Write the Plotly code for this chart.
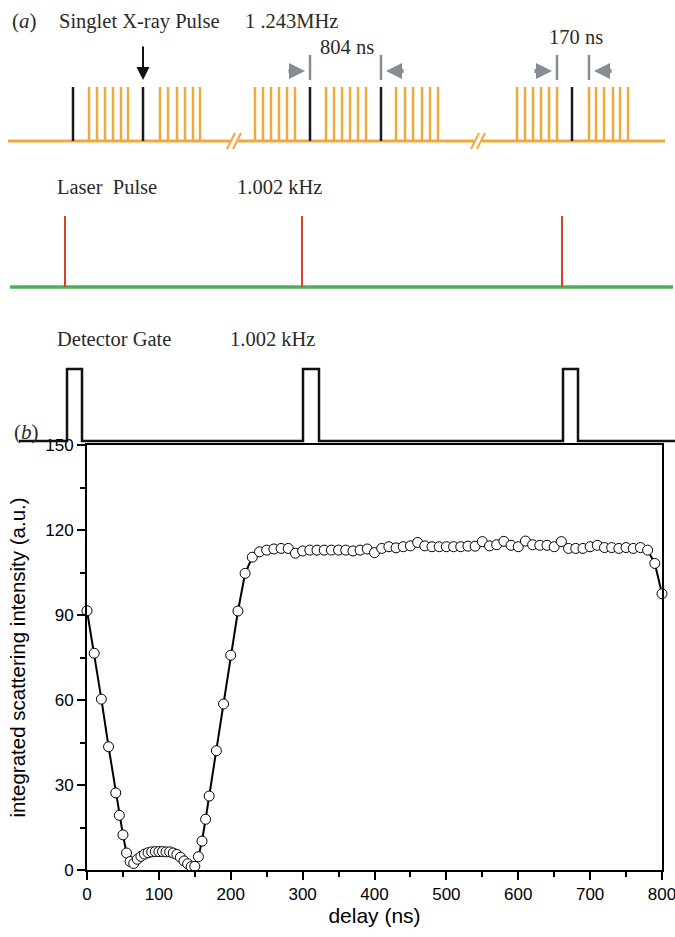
import plotly.graph_objects as go

# ---------------- data: panel (b) ----------------
delay_ns = [0, 10, 20, 30, 40, 45, 50, 55, 60, 65, 70, 75, 80, 85, 90, 95, 100, 105, 110, 115,
            120, 125, 130, 135, 140, 145, 150, 155, 160, 165, 170, 180, 190, 200, 210, 220,
            230, 240, 250, 260, 270, 280, 290, 300, 310, 320, 330, 340, 350, 360, 370, 380,
            390, 400, 410, 420, 430, 440, 450, 460, 470, 480, 490, 500, 510, 520, 530, 540,
            550, 560, 570, 580, 590, 600, 610, 620, 630, 640, 650, 660, 670, 680, 690, 700,
            710, 720, 730, 740, 750, 760, 770, 780, 790, 800]
intensity = [91.5, 76.5, 60.3, 43.5, 27.2, 19.3, 12.4, 6.0, 3.0, 2.3, 3.8, 4.8, 5.6, 6.1, 6.4,
             6.5, 6.5, 6.5, 6.4, 6.4, 6.0, 5.5, 4.5, 3.2, 2.2, 1.2, 1.3, 4.7, 10.2, 17.9, 26.1,
             42.1, 58.6, 75.8, 91.4, 104.7, 110.4, 112.3, 112.9, 113.3, 113.5, 113.5, 111.8,
             112.6, 112.9, 112.9, 112.9, 112.9, 112.9, 112.9, 112.6, 112.9, 113.3, 112.0, 113.5,
             114.1, 113.7, 114.1, 114.4, 115.6, 114.4, 114.1, 114.1, 114.1, 114.1, 114.1, 114.3,
             114.3, 115.9, 114.4, 114.8, 116.0, 114.6, 114.1, 116.1, 114.8, 114.6, 114.6, 114.1,
             115.9, 113.5, 113.5, 113.5, 114.1, 114.6, 113.8, 113.8, 113.5, 113.8, 113.5, 113.8,
             112.9, 108.2, 97.5]
x_ticks = [0, 100, 200, 300, 400, 500, 600, 700, 800]
y_ticks = [0, 30, 60, 90, 120, 150]

# ---------------- data: panel (a) schematic (timeline positions) ----------------
xray_black = [73, 143, 310, 381, 572]
xray_orange = [89, 97, 105, 113, 121, 128, 160, 168, 177, 185, 193, 200,
               255, 263, 271, 279, 287, 295, 326, 334, 342, 350, 358, 366,
               396, 405, 413, 422, 430, 438, 517, 525, 533, 541, 549, 557,
               589, 596, 604, 613, 620, 628]
xray_breaks = [234, 478]
interval_marks = [310, 381, 557, 589]
laser_pulses = [65, 302, 562]
gate_open = [67, 303, 563]
gate_close = [82, 319, 578]

# ---------------- geometry / styles ----------------
W, H = 675, 937
SCH_H = 455            # schematic area height (px-like units)
XR_BASE, XR_TOP = 141, 87
LS_BASE, LS_TOP = 287, 216
GT_LOW, GT_HIGH = 441, 369
ORANGE = "#F2A93B"
GREEN = "#4FAF55"
RED = "#D5452C"
GREY = "#858C92"
SERIF = "Liberation Serif"
SANS = "Liberation Sans"

fig = go.Figure()
SX = dict(xaxis="x2", yaxis="y2", hoverinfo="skip", showlegend=False, mode="lines")


def vlines(xs, y0, y1):
    xx, yy = [], []
    for x in xs:
        xx += [x, x, None]
        yy += [y0, y1, None]
    return xx, yy


# X-ray baseline with breaks
bx, by = [8], [XR_BASE]
for b in xray_breaks:
    bx += [b - 4, None, b + 4]
    by += [XR_BASE, None, XR_BASE]
bx += [665]
by += [XR_BASE]
fig.add_trace(go.Scatter(x=bx, y=by, line=dict(color=ORANGE, width=3), **SX))
# break slashes
sx, sy = [], []
for b in xray_breaks:
    for d in (-3, 3):
        sx += [b + d - 4, b + d + 4, None]
        sy += [XR_BASE + 8, XR_BASE - 8, None]
fig.add_trace(go.Scatter(x=sx, y=sy, line=dict(color=ORANGE, width=2), **SX))
# orange pulses
ox, oy = vlines(xray_orange, XR_BASE, XR_TOP)
fig.add_trace(go.Scatter(x=ox, y=oy, line=dict(color=ORANGE, width=2.5), **SX))
# black singlet pulses
kx, ky = vlines(xray_black, XR_BASE, XR_TOP)
fig.add_trace(go.Scatter(x=kx, y=ky, line=dict(color="#1a1a1a", width=2.5), **SX))
# grey interval marks
gx, gy = vlines(interval_marks, 80, 55)
fig.add_trace(go.Scatter(x=gx, y=gy, line=dict(color=GREY, width=2.5), **SX))

# laser
fig.add_trace(go.Scatter(x=[10, 673], y=[LS_BASE, LS_BASE], line=dict(color=GREEN, width=3.5), **SX))
lx, ly = vlines(laser_pulses, LS_BASE, LS_TOP)
fig.add_trace(go.Scatter(x=lx, y=ly, line=dict(color=RED, width=2), **SX))

# detector gate
dx, dy = [19], [GT_LOW]
for o, c in zip(gate_open, gate_close):
    dx += [o, o, c, c]
    dy += [GT_LOW, GT_HIGH, GT_HIGH, GT_LOW]
dx += [675]
dy += [GT_LOW]
fig.add_trace(go.Scatter(x=dx, y=dy, line=dict(color="#111111", width=2.5), **SX))

# ---------------- panel (b) data ----------------
fig.add_trace(go.Scatter(
    x=delay_ns, y=intensity, mode="lines+markers", showlegend=False,
    line=dict(color="black", width=2),
    marker=dict(symbol="circle", size=10, color="white", line=dict(color="black", width=1)),
    cliponaxis=False))

# ---------------- annotations ----------------
ann = []


def txt(x, y, t, size=20.5, anchor="left", font=SERIF):
    ann.append(dict(x=x, y=y, xref="x2", yref="y2", text=t, showarrow=False,
                    xanchor=anchor, yanchor="middle",
                    font=dict(family=font, size=size, color="#2a2a2a")))


txt(10, 21, "(<i>a</i>)", 21)
txt(57, 21, "Singlet X-ray Pulse")
txt(243, 21, "1 .243MHz")
txt(318, 47, "804 ns")
txt(576, 37, "170 ns", anchor="center")
txt(55, 187, "Laser  Pulse")
txt(235, 187, "1.002 kHz")
txt(55, 339, "Detector Gate")
txt(228, 339, "1.002 kHz")
txt(12, 432, "(<i>b</i>)", 21)


def arrow(xh, yh, xt, yt, color, width, size):
    ann.append(dict(x=xh, y=yh, ax=xt, ay=yt, xref="x2", yref="y2", axref="x2", ayref="y2",
                    text="", showarrow=True, arrowhead=2, arrowsize=size,
                    arrowwidth=width, arrowcolor=color))


arrow(143, 80, 143, 45, "#111111", 2, 1.3)
arrow(305, 71, 287, 71, GREY, 4, 0.8)
arrow(386, 71, 405, 71, GREY, 4, 0.8)
arrow(552, 71, 533, 71, GREY, 4, 0.8)
arrow(594, 71, 613, 71, GREY, 4, 0.8)

# ---------------- layout ----------------
X0, X1 = 87, 662
Y0, Y1 = 870, 445
axis_common = dict(showline=True, linecolor="black", linewidth=2, mirror=True,
                   ticks="outside", tickcolor="black", tickwidth=2, ticklen=8,
                   showgrid=False, zeroline=False, automargin=False,
                   ticklabeloverflow="allow",
                   tickfont=dict(family=SANS, size=17, color="black"))
fig.update_layout(
    width=W, height=H, margin=dict(l=0, r=0, t=0, b=0),
    paper_bgcolor="white", plot_bgcolor="rgba(0,0,0,0)",
    annotations=ann,
    xaxis=dict(domain=[X0 / W, X1 / W], range=[0, 800], tickvals=x_ticks,
               minor=dict(dtick=50, ticks="outside", ticklen=5, tickwidth=2, tickcolor="black"),
               title=dict(text="delay (ns)", font=dict(family=SANS, size=21, color="black"), standoff=3),
               anchor="y", **axis_common),
    yaxis=dict(domain=[(H - Y0) / H, (H - Y1) / H], range=[0, 150], tickvals=y_ticks,
               minor=dict(dtick=15, ticks="outside", ticklen=5, tickwidth=2, tickcolor="black"),
               title=dict(text="integrated scattering intensity (a.u.)",
                          font=dict(family=SANS, size=20.5, color="black"), standoff=14),
               anchor="x", **axis_common),
    xaxis2=dict(domain=[0, 1], range=[0, W], visible=False, anchor="y2"),
    yaxis2=dict(domain=[(H - SCH_H) / H, 1], range=[SCH_H, 0], visible=False, anchor="x2"),
)

fig.write_html("out.html", config={"displayModeBar": False},
               post_script="document.body.style.margin='0';document.body.style.overflow='hidden';")
